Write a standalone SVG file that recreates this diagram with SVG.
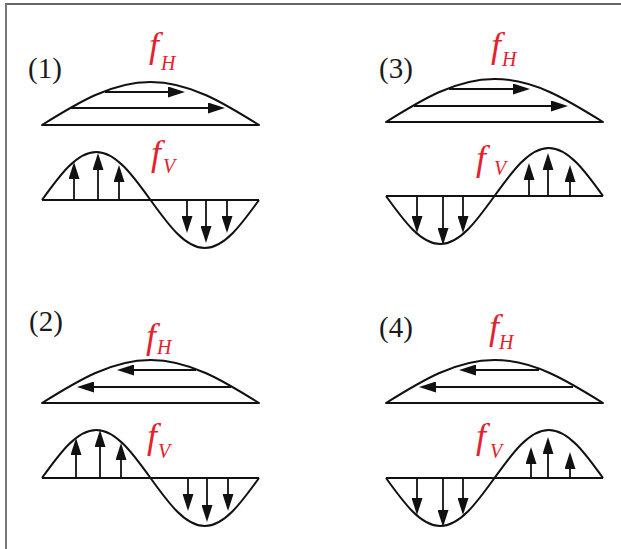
<svg xmlns="http://www.w3.org/2000/svg" width="621" height="549" viewBox="0 0 621 549">
  <style>
    .curve { fill: none; stroke: #111; stroke-width: 2; stroke-linejoin: round; }
    .arr { stroke: #111; stroke-width: 1.8; marker-end: url(#head); }
    .lbl { font-family: "Liberation Serif", "Times New Roman", serif; font-size: 29px; fill: #1a1a1a; }
    .f { font-family: "Liberation Serif", "Times New Roman", serif; font-style: italic; font-size: 36px; fill: #e5212d; }
    .sub { font-family: "Liberation Serif", "Times New Roman", serif; font-style: italic; font-size: 20px; fill: #e5212d; }
  </style>
  <defs>
    <marker id="head" markerUnits="userSpaceOnUse" viewBox="0 0 17 11" refX="13" refY="5.5" markerWidth="17" markerHeight="11" orient="auto">
      <path d="M0,0 L17,5.5 L0,11 Z" fill="#111"/>
    </marker>
    <path id="lens" d="M0,0 C35.38,-22.03 69.23,-43 108.5,-43 C147.77,-43 181.62,-22.03 217,0 Z"/>
    <path id="waveUp" d="M0,0 C17.69,-24.59 34.62,-48 54.25,-48 C73.88,-48 90.81,-24.59 108.5,0 C126.19,24.59 143.12,48 162.75,48 C182.38,48 199.31,24.59 217,0 M0,0 H217"/>
    <path id="waveDown" d="M0,0 C17.69,24.59 34.62,48 54.25,48 C73.88,48 90.81,24.59 108.5,0 C126.19,-24.59 143.12,-48 162.75,-48 C182.38,-48 199.31,-24.59 217,0 M0,0 H217"/>
  </defs>

  <!-- frame -->
  <g id="frame">
    <line x1="5" y1="4" x2="621" y2="4" stroke="#333" stroke-width="1.5"/>
    <line x1="6" y1="3.5" x2="6" y2="549" stroke="#777" stroke-width="2"/>
  </g>

  <!-- panel 1 -->
  <g id="panel1">
    <text class="lbl" x="28" y="78">(1)</text>
    <text class="f" x="149" y="57">f</text>
    <text class="sub" x="161" y="70">H</text>
    <text class="f" x="151" y="165">f</text>
    <text class="sub" x="163" y="173">V</text>
    <g transform="translate(42,125)">
      <use href="#lens" class="curve"/>
      <line class="arr" x1="63" y1="-33" x2="139" y2="-33"/>
      <line class="arr" x1="29" y1="-17" x2="179" y2="-17"/>
    </g>
    <g transform="translate(42,200)">
      <use href="#waveUp" class="curve"/>
      <line class="arr" x1="32" y1="0" x2="32" y2="-34"/>
      <line class="arr" x1="56" y1="0" x2="56" y2="-43"/>
      <line class="arr" x1="77" y1="0" x2="77" y2="-31"/>
      <line class="arr" x1="145" y1="0" x2="145" y2="29"/>
      <line class="arr" x1="164" y1="0" x2="164" y2="39"/>
      <line class="arr" x1="185" y1="0" x2="185" y2="29"/>
    </g>
  </g>

  <!-- panel 3 -->
  <g id="panel3">
    <text class="lbl" x="379" y="78">(3)</text>
    <text class="f" x="491" y="57">f</text>
    <text class="sub" x="502" y="66">H</text>
    <text class="f" x="476" y="170">f</text>
    <text class="sub" x="494" y="175">V</text>
    <g transform="translate(386,122)">
      <use href="#lens" class="curve"/>
      <line class="arr" x1="63" y1="-33" x2="140" y2="-33"/>
      <line class="arr" x1="28" y1="-16" x2="178" y2="-16"/>
    </g>
    <g transform="translate(386,196)">
      <use href="#waveDown" class="curve"/>
      <line class="arr" x1="31" y1="0" x2="31" y2="33"/>
      <line class="arr" x1="57" y1="0" x2="57" y2="45"/>
      <line class="arr" x1="77" y1="0" x2="77" y2="33"/>
      <line class="arr" x1="143" y1="0" x2="143" y2="-29"/>
      <line class="arr" x1="162" y1="0" x2="162" y2="-39"/>
      <line class="arr" x1="184" y1="0" x2="184" y2="-27"/>
    </g>
  </g>

  <!-- panel 2 -->
  <g id="panel2">
    <text class="lbl" x="29" y="331">(2)</text>
    <text class="f" x="146" y="348">f</text>
    <text class="sub" x="157" y="354">H</text>
    <text class="f" x="147" y="448">f</text>
    <text class="sub" x="158" y="458">V</text>
    <g transform="translate(42,403)">
      <use href="#lens" class="curve"/>
      <line class="arr" x1="154" y1="-33" x2="79" y2="-33"/>
      <line class="arr" x1="189" y1="-16" x2="39" y2="-16"/>
    </g>
    <g transform="translate(42,478)">
      <use href="#waveUp" class="curve"/>
      <line class="arr" x1="34" y1="0" x2="34" y2="-36"/>
      <line class="arr" x1="58" y1="0" x2="58" y2="-44"/>
      <line class="arr" x1="79" y1="0" x2="79" y2="-31"/>
      <line class="arr" x1="146" y1="0" x2="146" y2="29"/>
      <line class="arr" x1="165" y1="0" x2="165" y2="40"/>
      <line class="arr" x1="186" y1="0" x2="186" y2="29"/>
    </g>
  </g>

  <!-- panel 4 -->
  <g id="panel4">
    <text class="lbl" x="379" y="337">(4)</text>
    <text class="f" x="489" y="339">f</text>
    <text class="sub" x="499" y="349">H</text>
    <text class="f" x="476" y="448">f</text>
    <text class="sub" x="490" y="458">V</text>
    <g transform="translate(386,403)">
      <use href="#lens" class="curve"/>
      <line class="arr" x1="153" y1="-33" x2="77" y2="-33"/>
      <line class="arr" x1="187" y1="-16" x2="37" y2="-16"/>
    </g>
    <g transform="translate(386,478)">
      <use href="#waveDown" class="curve"/>
      <line class="arr" x1="31" y1="0" x2="31" y2="33"/>
      <line class="arr" x1="57" y1="0" x2="57" y2="45"/>
      <line class="arr" x1="77" y1="0" x2="77" y2="33"/>
      <line class="arr" x1="145" y1="0" x2="145" y2="-27"/>
      <line class="arr" x1="162" y1="0" x2="162" y2="-37"/>
      <line class="arr" x1="184" y1="0" x2="184" y2="-22"/>
    </g>
  </g>
</svg>
